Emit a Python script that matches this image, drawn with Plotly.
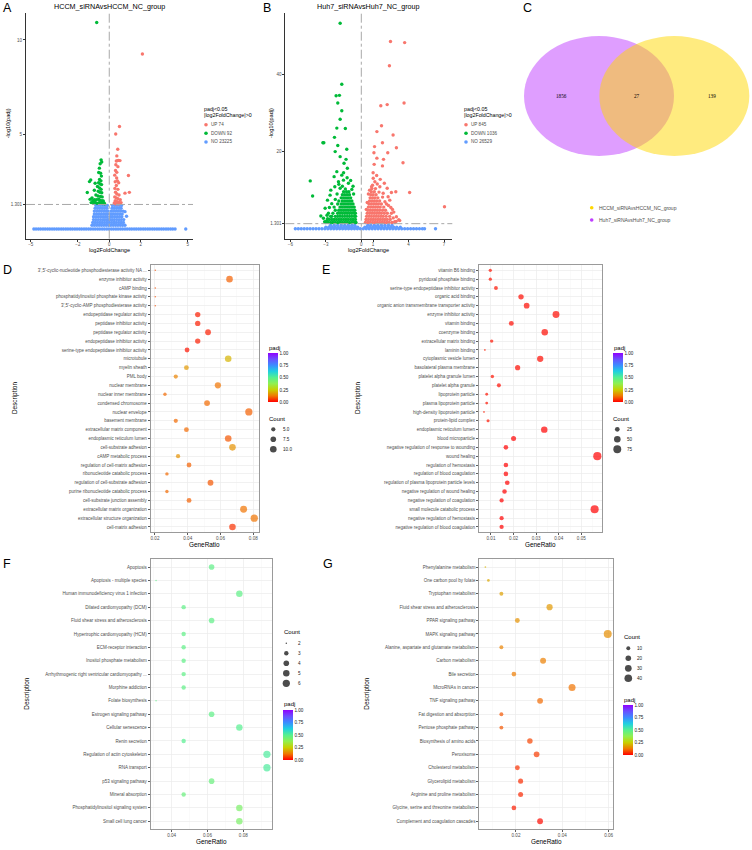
import numpy as np
import plotly.graph_objects as go

W, H = 752, 850
SANS = "Liberation Sans, Arial, sans-serif"
SERIF = "Liberation Serif, Times New Roman, serif"
G30 = "#4D4D4D"

# ----------------------------------------------------------------- DATA
PADJ_CUT = 1.301
A_TITLE = "HCCM_siRNAvsHCCM_NC_group"
B_TITLE = "Huh7_siRNAvsHuh7_NC_group"
A_LEG = ["UP 74", "DOWN 92", "NO 23225"]
B_LEG = ["UP 845", "DOWN 1036", "NO 26529"]

A_UP = [(2.11, 9.26), (0.65, 5.42), (0.41, 5.03), (0.54, 4.22), (0.48, 3.87), (0.45, 3.60), (0.53, 3.62),
        (0.60, 3.63), (0.68, 3.62), (0.42, 3.40), (0.55, 3.30), (0.40, 3.10), (0.48, 3.00), (1.22, 2.83),
        (0.35, 2.85), (0.47, 2.70), (0.52, 2.55), (0.38, 2.50), (0.60, 2.45), (0.45, 2.30), (0.36, 2.15),
        (0.55, 2.10), (1.28, 1.94), (1.00, 1.90), (0.40, 1.95), (0.48, 1.85), (0.62, 1.80), (0.35, 1.70),
        (0.45, 1.65), (0.55, 1.60), (0.70, 1.55), (0.38, 1.50), (0.50, 1.45), (0.62, 1.42), (0.75, 1.40),
        (0.32, 1.38), (0.42, 1.34), (0.58, 1.33)]
A_DOWN = [(-0.80, 10.92), (-0.52, 3.66), (-0.48, 3.55), (-0.58, 3.45), (-0.63, 3.22), (-0.67, 2.99),
          (-0.55, 2.95), (-0.50, 2.80), (-1.18, 2.60), (-1.26, 2.51), (-0.62, 2.62), (-0.53, 2.55),
          (-0.90, 2.42), (-0.68, 2.45), (-0.58, 2.38), (-0.49, 2.35), (-1.40, 1.93), (-0.75, 2.25),
          (-0.62, 2.18), (-0.52, 2.10), (-0.95, 2.05), (-0.70, 2.00), (-0.60, 1.95), (-0.48, 1.92),
          (-1.22, 1.57), (-1.10, 1.65), (-0.85, 1.80), (-0.72, 1.75), (-0.56, 1.72), (-0.45, 1.70),
          (-1.05, 1.50), (-0.95, 1.55), (-0.82, 1.55), (-0.68, 1.58), (-0.58, 1.52), (-0.46, 1.50),
          (-0.38, 1.48), (-1.15, 1.40), (-1.00, 1.38), (-0.90, 1.42), (-0.78, 1.36), (-0.65, 1.40),
          (-0.55, 1.37), (-0.43, 1.35), (-0.35, 1.40), (-0.30, 1.34)]
A_NO_BAND = [-4.80, -4.66, -4.51, -4.37, -4.22, -4.08, -3.93, -3.79, -3.64, -3.50, -3.35, -3.21, -3.06,
             -2.92, -2.77, -2.63, -2.48, -2.34, -2.19, -2.05, -1.90, -1.76, -1.61, -1.47, -1.32, -1.18,
             -1.03, -0.89, -0.74, -0.60, -0.45, -0.31, -0.16, -0.02, 0.13, 0.27, 0.42, 0.56, 0.71, 0.85,
             1.00, 1.14, 1.29, 1.43, 1.58, 1.72, 1.87, 2.01, 2.16, 2.30, 2.45, 2.59, 2.74, 2.88, 3.03,
             3.17, 3.32, 3.46, 3.61, 3.75, 3.90, 4.04, 4.19, 4.87]
A_NO_BLOB = [(-0.85, 1.25), (-0.70, 1.25), (-0.55, 1.25), (-0.40, 1.25), (-0.25, 1.25), (-0.12, 1.25),
             (0.20, 1.25), (0.35, 1.25), (0.50, 1.25), (0.65, 1.25), (0.78, 1.25),
             (-0.90, 1.10), (-0.75, 1.10), (-0.60, 1.10), (-0.45, 1.10), (-0.30, 1.10), (-0.15, 1.10),
             (0.18, 1.10), (0.32, 1.10), (0.47, 1.10), (0.62, 1.10), (0.75, 1.10),
             (-0.95, 0.95), (-0.80, 0.95), (-0.65, 0.95), (-0.50, 0.95), (-0.35, 0.95), (-0.20, 0.95),
             (-0.08, 0.95), (0.12, 0.95), (0.27, 0.95), (0.42, 0.95), (0.57, 0.95), (0.72, 0.95),
             (0.88, 0.95), (1.00, 0.92),
             (-0.95, 0.80), (-0.80, 0.80), (-0.65, 0.80), (-0.50, 0.80), (-0.35, 0.80), (-0.22, 0.80),
             (-0.10, 0.80), (0.10, 0.80), (0.22, 0.80), (0.37, 0.80), (0.52, 0.80), (0.67, 0.80),
             (0.82, 0.80),
             (-1.00, 0.65), (-0.85, 0.65), (-0.70, 0.65), (-0.55, 0.65), (-0.40, 0.65), (-0.25, 0.65),
             (-0.12, 0.65), (0.08, 0.65), (0.20, 0.65), (0.35, 0.65), (0.50, 0.65), (0.65, 0.65),
             (0.80, 0.65), (1.10, 0.68),
             (-1.00, 0.50), (-0.85, 0.50), (-0.70, 0.50), (-0.55, 0.50), (-0.40, 0.50), (-0.28, 0.50),
             (-0.15, 0.50), (-0.05, 0.50), (0.05, 0.50), (0.18, 0.50), (0.32, 0.50), (0.47, 0.50),
             (0.62, 0.50), (0.77, 0.50), (0.92, 0.50),
             (-1.05, 0.35), (-0.90, 0.35), (-0.75, 0.35), (-0.60, 0.35), (-0.45, 0.35), (-0.30, 0.35),
             (-0.15, 0.35), (0.00, 0.35), (0.15, 0.35), (0.30, 0.35), (0.45, 0.35), (0.60, 0.35),
             (0.75, 0.35), (0.90, 0.35),
             (-1.10, 0.20), (-0.95, 0.20), (-0.80, 0.20), (-0.65, 0.20), (-0.50, 0.20), (-0.35, 0.20),
             (-0.20, 0.20), (-0.05, 0.20), (0.10, 0.20), (0.25, 0.20), (0.40, 0.20), (0.55, 0.20),
             (0.70, 0.20), (0.85, 0.20), (1.00, 0.20)]

B_UP = [(2.47, 48.6), (3.67, 48.3), (2.38, 42.3), (1.65, 31.9), (2.19, 32.2), (3.62, 32.6), (1.71, 26.7),
        (1.32, 25.2), (2.69, 24.3), (1.79, 22.3), (1.12, 21.3), (2.97, 21.0), (1.07, 19.7), (2.24, 19.7),
        (1.32, 18.3), (1.88, 18.0), (1.09, 16.7), (1.79, 16.3), (3.53, 17.1), (7.04, 5.7), (4.09, 9.4),
        (2.92, 9.6), (2.55, 9.4), (2.19, 10.5), (2.64, 5.0), (2.75, 4.3), (3.17, 2.3), (2.13, 6.4),
        (1.01, 13.1), (1.15, 12.2), (0.95, 11.3), (1.35, 11.6), (1.57, 10.9), (0.87, 10.9), (1.85, 9.2),
        (2.27, 8.3), (2.41, 7.4), (2.00, 7.0), (2.55, 4.0), (2.97, 3.1), (3.25, 2.1), (2.83, 1.8),
        (0.60, 9.0), (0.70, 10.0), (1.50, 9.5), (1.80, 8.2), (2.30, 6.0), (2.50, 5.5), (2.70, 2.8),
        (2.95, 1.9), (0.50, 6.8), (0.42, 5.0), (1.95, 11.8), (1.60, 12.8), (1.30, 13.8), (1.00, 14.5),
        (0.35, 1.6), (0.55, 1.6), (0.75, 1.6), (0.95, 1.6), (1.15, 1.6), (1.35, 1.6), (1.55, 1.6),
        (1.75, 1.6), (1.95, 1.6), (2.15, 1.6), (2.35, 1.6), (2.60, 1.6), (2.85, 1.6),
        (0.40, 2.4), (0.60, 2.4), (0.80, 2.4), (1.00, 2.4), (1.20, 2.4), (1.40, 2.4), (1.60, 2.4),
        (1.80, 2.4), (2.00, 2.4), (2.20, 2.4), (2.45, 2.4),
        (0.45, 3.2), (0.65, 3.2), (0.85, 3.2), (1.05, 3.2), (1.25, 3.2), (1.45, 3.2), (1.65, 3.2),
        (1.85, 3.2), (2.10, 3.2), (2.40, 3.2),
        (0.50, 4.0), (0.70, 4.0), (0.90, 4.0), (1.10, 4.0), (1.30, 4.0), (1.50, 4.0), (1.70, 4.0),
        (1.95, 4.0), (2.20, 4.0),
        (0.55, 4.8), (0.75, 4.8), (0.95, 4.8), (1.15, 4.8), (1.35, 4.8), (1.55, 4.8), (1.80, 4.8),
        (2.05, 4.8),
        (0.60, 5.6), (0.80, 5.6), (1.00, 5.6), (1.20, 5.6), (1.40, 5.6), (1.60, 5.6), (1.90, 5.6),
        (0.65, 6.4), (0.85, 6.4), (1.05, 6.4), (1.25, 6.4), (1.45, 6.4), (1.70, 6.4),
        (0.70, 7.2), (0.90, 7.2), (1.10, 7.2), (1.30, 7.2), (1.55, 7.2),
        (0.75, 8.0), (0.95, 8.0), (1.15, 8.0), (1.40, 8.0),
        (0.80, 8.8), (1.00, 8.8), (1.25, 8.8), (0.85, 9.6), (1.10, 9.6), (0.90, 10.4), (1.20, 10.4)]
B_DOWN = [(-1.79, 53.3), (-1.65, 37.5), (-2.13, 34.5), (-1.85, 34.6), (-1.99, 32.6), (-1.65, 30.6),
          (-1.79, 28.4), (-1.35, 26.0), (-2.07, 26.1), (-2.27, 23.7), (-3.17, 22.3), (-3.25, 22.3),
          (-1.99, 21.6), (-2.21, 20.0), (-4.32, 12.4), (-4.12, 8.5), (-2.58, 10.0), (-1.23, 20.6),
          (-1.29, 18.0), (-3.42, 3.3), (-1.79, 18.7), (-1.46, 17.0), (-1.18, 15.7), (-2.07, 14.8),
          (-1.65, 13.9), (-2.30, 13.5), (-1.93, 12.2), (-1.51, 12.6), (-1.09, 11.8), (-2.24, 10.9),
          (-1.79, 10.5), (-2.64, 8.7), (-2.86, 7.4), (-3.06, 5.3), (-2.78, 4.0), (-3.20, 2.7),
          (-2.92, 2.1), (-1.50, 14.5), (-1.20, 13.2), (-0.90, 12.5), (-0.70, 11.0), (-1.90, 11.5),
          (-1.60, 11.0), (-0.80, 10.2), (-0.65, 9.0), (-2.50, 6.5), (-2.70, 5.5), (-2.90, 3.5),
          (-2.60, 3.2), (-3.10, 1.8), (-2.85, 2.6), (-1.35, 10.3), (-2.05, 9.0), (-2.20, 7.6),
          (-3.00, 1.6), (-2.80, 1.6), (-2.60, 1.6), (-2.40, 1.6), (-2.20, 1.6), (-2.00, 1.6), (-1.80, 1.6),
          (-1.60, 1.6), (-1.40, 1.6), (-1.20, 1.6), (-1.00, 1.6), (-0.80, 1.6), (-0.60, 1.6), (-0.45, 1.6),
          (-2.70, 2.4), (-2.50, 2.4), (-2.30, 2.4), (-2.10, 2.4), (-1.90, 2.4), (-1.70, 2.4), (-1.50, 2.4),
          (-1.30, 2.4), (-1.10, 2.4), (-0.90, 2.4), (-0.70, 2.4), (-0.50, 2.4),
          (-2.50, 3.2), (-2.20, 3.2), (-2.00, 3.2), (-1.80, 3.2), (-1.60, 3.2), (-1.40, 3.2), (-1.20, 3.2),
          (-1.00, 3.2), (-0.80, 3.2), (-0.60, 3.2), (-0.48, 3.2),
          (-2.40, 4.0), (-2.00, 4.0), (-1.80, 4.0), (-1.60, 4.0), (-1.40, 4.0), (-1.20, 4.0), (-1.00, 4.0),
          (-0.80, 4.0), (-0.60, 4.0), (-0.50, 4.0),
          (-2.20, 4.8), (-1.90, 4.8), (-1.70, 4.8), (-1.50, 4.8), (-1.30, 4.8), (-1.10, 4.8), (-0.90, 4.8),
          (-0.70, 4.8), (-0.55, 4.8),
          (-2.30, 5.6), (-1.80, 5.6), (-1.60, 5.6), (-1.40, 5.6), (-1.20, 5.6), (-1.00, 5.6), (-0.80, 5.6),
          (-0.60, 5.6),
          (-2.00, 6.4), (-1.70, 6.4), (-1.50, 6.4), (-1.30, 6.4), (-1.10, 6.4), (-0.90, 6.4), (-0.70, 6.4),
          (-1.90, 7.2), (-1.60, 7.2), (-1.40, 7.2), (-1.20, 7.2), (-1.00, 7.2), (-0.80, 7.2),
          (-1.70, 8.0), (-1.50, 8.0), (-1.30, 8.0), (-1.10, 8.0), (-0.90, 8.0),
          (-1.60, 8.8), (-1.40, 8.8), (-1.20, 8.8), (-1.00, 8.8), (-1.50, 9.6), (-1.25, 9.6), (-1.05, 9.6)]
B_NO_BAND = [-5.58, -5.33, -5.08, -4.83, -4.58, -4.33, -4.08, -3.83, -3.58, -3.33, -3.08, -2.83, -2.58,
             -2.33, -2.08, -1.83, -1.58, -1.33, -1.08, -0.83, -0.58, -0.33, -0.08, 0.17, 0.42, 0.67,
             0.92, 1.17, 1.42, 1.67, 1.92, 2.17, 2.42, 2.67, 2.92, 3.17, 3.42, 3.67, 3.92, 4.17, 4.42,
             4.67, 4.92, 5.17, 5.35, 6.28]
B_NO_BLOB = [(-3.00, 0.4), (-2.75, 0.4), (-2.50, 0.4), (-2.25, 0.4), (-2.00, 0.4), (-1.75, 0.4),
             (-1.50, 0.4), (-1.25, 0.4), (-1.00, 0.4), (-0.75, 0.4), (-0.50, 0.4), (-0.30, 0.4),
             (0.30, 0.4), (0.50, 0.4), (0.75, 0.4), (1.00, 0.4), (1.25, 0.4), (1.50, 0.4), (1.75, 0.4),
             (2.00, 0.4), (2.25, 0.4), (2.50, 0.4), (2.75, 0.4), (3.00, 0.4), (3.30, 0.4),
             (-2.60, 0.9), (-2.30, 0.9), (-2.00, 0.9), (-1.70, 0.9), (-1.40, 0.9), (-1.10, 0.9),
             (-0.80, 0.9), (-0.55, 0.9), (0.55, 0.9), (0.80, 0.9), (1.10, 0.9), (1.40, 0.9), (1.70, 0.9),
             (2.00, 0.9), (2.30, 0.9), (2.60, 0.9)]

VENN_SETS = ["HCCM_siRNAvsHCCM_NC_group", "Huh7_siRNAvsHuh7_NC_group"]
VENN_ONLY_HUH7, VENN_BOTH, VENN_ONLY_HCCM = 1856, 27, 139

D_TERMS = ["3',5'-cyclic-nucleotide phosphodiesterase activity NA ...", "enzyme inhibitor activity",
           "cAMP binding", "phosphatidylinositol phosphate kinase activity",
           "3',5'-cyclic-AMP phosphodiesterase activity", "endopeptidase regulator activity",
           "peptidase inhibitor activity", "peptidase regulator activity", "endopeptidase inhibitor activity",
           "serine-type endopeptidase inhibitor activity", "microtubule", "myelin sheath", "PML body",
           "nuclear membrane", "nuclear inner membrane", "condensed chromosome", "nuclear envelope",
           "basement membrane", "extracellular matrix component", "endoplasmic reticulum lumen",
           "cell-substrate adhesion", "cAMP metabolic process", "regulation of cell-matrix adhesion",
           "ribonucleotide catabolic process", "regulation of cell-substrate adhesion",
           "purine ribonucleotide catabolic process", "cell-substrate junction assembly",
           "extracellular matrix organization", "extracellular structure organization", "cell-matrix adhesion"]
D_RATIO = [0.0202, 0.0655, 0.0202, 0.0202, 0.0202, 0.0461, 0.0461, 0.0524, 0.0461, 0.0396,
           0.0647, 0.0392, 0.0327, 0.0584, 0.0261, 0.0518, 0.0773, 0.0327, 0.0392, 0.0647,
           0.0673, 0.0341, 0.0408, 0.0273, 0.0539, 0.0273, 0.0408, 0.0741, 0.0806, 0.0673]
D_COUNT = [3, 10, 3, 3, 3, 7, 7, 8, 7, 6, 10, 6, 5, 9, 4, 8, 12, 5, 6, 10, 10, 5, 6, 4, 8, 4, 6, 11, 12, 10]
D_PADJ = [0.08, 0.10, 0.08, 0.08, 0.08, 0.03, 0.03, 0.03, 0.03, 0.02, 0.21, 0.17, 0.14, 0.12, 0.11,
          0.11, 0.10, 0.11, 0.11, 0.09, 0.16, 0.16, 0.10, 0.11, 0.09, 0.11, 0.10, 0.12, 0.12, 0.05]

E_TERMS = ["vitamin B6 binding", "pyridoxal phosphate binding", "serine-type endopeptidase inhibitor activity",
           "organic acid binding", "organic anion transmembrane transporter activity", "enzyme inhibitor activity",
           "vitamin binding", "coenzyme binding", "extracellular matrix binding", "laminin binding",
           "cytoplasmic vesicle lumen", "basolateral plasma membrane", "platelet alpha granule lumen",
           "platelet alpha granule", "lipoprotein particle", "plasma lipoprotein particle",
           "high-density lipoprotein particle", "protein-lipid complex", "endoplasmic reticulum lumen",
           "blood microparticle", "negative regulation of response to wounding", "wound healing",
           "regulation of hemostasis", "regulation of blood coagulation",
           "regulation of plasma lipoprotein particle levels", "negative regulation of wound healing",
           "negative regulation of coagulation", "small molecule catabolic process",
           "negative regulation of hemostasis", "negative regulation of blood coagulation"]
E_RATIO = [0.0097, 0.0097, 0.0122, 0.0233, 0.0258, 0.0388, 0.0190, 0.0338, 0.0103, 0.0073,
           0.0318, 0.0218, 0.0106, 0.0135, 0.0081, 0.0081, 0.0069, 0.0087, 0.0336, 0.0200,
           0.0166, 0.0571, 0.0166, 0.0166, 0.0172, 0.0160, 0.0147, 0.0559, 0.0147, 0.0147]
E_COUNT = [14, 14, 18, 33, 37, 56, 27, 49, 15, 10, 46, 31, 15, 19, 12, 12, 10, 13, 48, 29,
           24, 82, 24, 24, 25, 23, 21, 80, 21, 21]
E_PADJ = [0.02, 0.02, 0.02, 0.01, 0.01, 0.01, 0.01, 0.01, 0.02, 0.03, 0.01, 0.01, 0.02, 0.01, 0.02,
          0.02, 0.03, 0.02, 0.0, 0.0, 0.0, 0.0, 0.0, 0.0, 0.0, 0.0, 0.0, 0.0, 0.0, 0.0]

F_TERMS = ["Apoptosis", "Apoptosis - multiple species", "Human immunodeficiency virus 1 infection",
           "Dilated cardiomyopathy (DCM)", "Fluid shear stress and atherosclerosis",
           "Hypertrophic cardiomyopathy (HCM)", "ECM-receptor interaction", "Inositol phosphate metabolism",
           "Arrhythmogenic right ventricular cardiomyopathy ...", "Morphine addiction", "Folate biosynthesis",
           "Estrogen signaling pathway", "Cellular senescence", "Renin secretion",
           "Regulation of actin cytoskeleton", "RNA transport", "p53 signaling pathway", "Mineral absorption",
           "Phosphatidylinositol signaling system", "Small cell lung cancer"]
F_RATIO = [0.0623, 0.0313, 0.0778, 0.0467, 0.0623, 0.0467, 0.0467, 0.0467, 0.0467, 0.0467,
           0.0313, 0.0623, 0.0778, 0.0467, 0.0932, 0.0932, 0.0623, 0.0467, 0.0778, 0.0778]
F_COUNT = [4, 2, 5, 3, 4, 3, 3, 3, 3, 3, 2, 4, 5, 3, 6, 6, 4, 3, 5, 5]
F_PADJ = [0.48, 0.48, 0.48, 0.48, 0.48, 0.48, 0.48, 0.48, 0.48, 0.48, 0.48, 0.48, 0.50, 0.50,
          0.52, 0.52, 0.46, 0.46, 0.42, 0.42]

G_TERMS = ["Phenylalanine metabolism", "One carbon pool by folate", "Tryptophan metabolism",
           "Fluid shear stress and atherosclerosis", "PPAR signaling pathway", "MAPK signaling pathway",
           "Alanine, aspartate and glutamate metabolism", "Carbon metabolism", "Bile secretion",
           "MicroRNAs in cancer", "TNF signaling pathway", "Fat digestion and absorption",
           "Pentose phosphate pathway", "Biosynthesis of amino acids", "Peroxisome", "Cholesterol metabolism",
           "Glycerolipid metabolism", "Arginine and proline metabolism",
           "Glycine, serine and threonine metabolism", "Complement and coagulation cascades"]
G_RATIO = [0.0068, 0.0081, 0.0137, 0.0345, 0.0206, 0.0596, 0.0137, 0.0317, 0.0191, 0.0442,
           0.0304, 0.0137, 0.0137, 0.0260, 0.0289, 0.0206, 0.0220, 0.0220, 0.0191, 0.0304]
G_COUNT = [5, 6, 10, 25, 15, 44, 10, 23, 14, 33, 22, 10, 10, 19, 21, 15, 16, 16, 14, 22]
G_PADJ = [0.21, 0.19, 0.18, 0.17, 0.16, 0.155, 0.14, 0.135, 0.13, 0.12, 0.11, 0.09, 0.09, 0.07, 0.06,
          0.05, 0.045, 0.04, 0.03, 0.01]

PADJ_TICKS = [0, 0.25, 0.5, 0.75, 1.0]
D_SIZE_BREAKS = [5.0, 7.5, 10.0]
E_SIZE_BREAKS = [25, 50, 75]
F_SIZE_BREAKS = [2, 3, 4, 5, 6]
G_SIZE_BREAKS = [10, 20, 30, 40]

# ----------------------------------------------------------------- STYLE / HELPERS
C_UP, C_DOWN, C_NO = "#F8766D", "#00BA38", "#619CFF"
CSCALE = [[0.0, "#FF0000"], [0.125, "#F07800"], [0.25, "#C8D000"], [0.375, "#90F050"],
          [0.5, "#55F090"], [0.625, "#20D0E0"], [0.75, "#3C8CFF"], [0.875, "#6A50FF"], [1.0, "#9000FF"]]


def xd(l, r):
    return [l / W, r / W]


def yd(t, b):
    return [1 - b / H, 1 - t / H]


def px(x):
    return x / W


def py(y):
    return 1 - y / H


def diam(c, lo, hi, k):
    c = np.asarray(c, dtype=float)
    return k * (1 + 5 * np.sqrt(np.clip((c - lo) / (hi - lo), 0, 1)) + 0.33)


fig = go.Figure()
ann = []
shapes = []


def text(x, y, s, size, color="black", xa="left", ya="middle", angle=0, family=SANS):
    ann.append(dict(x=px(x), y=py(y), xref="paper", yref="paper", text=s, showarrow=False,
                    xanchor=xa, yanchor=ya, textangle=angle, borderpad=0,
                    font=dict(size=size, color=color, family=family)))


# ----------------------------------------------------------------- VOLCANO PANELS
def volcano(ax, up, down, band, blob):
    xs = [p for p in band] + [p[0] for p in blob]
    ys = [0.0] * len(band) + [p[1] for p in blob]
    for xv, yv, col in [(xs, ys, C_NO), ([p[0] for p in down], [p[1] for p in down], C_DOWN),
                        ([p[0] for p in up], [p[1] for p in up], C_UP)]:
        fig.add_trace(go.Scatter(x=xv, y=yv, mode="markers", xaxis="x" + ax, yaxis="y" + ax,
                                 marker=dict(size=3.4, color=col, line=dict(width=0)),
                                 showlegend=False, hoverinfo="skip"))
    xr = "x" + ax
    yr = "y" + ax
    shapes.append(dict(type="line", xref=xr, yref=yr + " domain", x0=0, x1=0, y0=0, y1=1,
                       line=dict(color="#A8A8A8", width=1, dash="dashdot")))
    shapes.append(dict(type="line", xref=xr + " domain", yref=yr, x0=0, x1=1, y0=PADJ_CUT, y1=PADJ_CUT,
                       line=dict(color="#A8A8A8", width=1, dash="dashdot")))


volcano("", A_UP, A_DOWN, A_NO_BAND, A_NO_BLOB)
volcano("2", B_UP, B_DOWN, B_NO_BAND, B_NO_BLOB)

vol_ax = dict(showgrid=False, zeroline=False, showline=True, linecolor="#333333", linewidth=1,
              ticks="outside", ticklen=2, tickwidth=1, tickcolor="#333333",
              tickfont=dict(size=4.5, color=G30, family=SANS))
layout = dict(
    xaxis=dict(domain=xd(26, 193), range=[-5.3, 5.33], tickvals=[-5, -2, 0, 2, 5], anchor="y",
               ticklabelstandoff=-1, **vol_ax),
    yaxis=dict(domain=yd(13.3, 238.7), range=[-0.51, 11.41], tickvals=[PADJ_CUT, 5, 10],
               ticktext=["1.301", "5", "10"], anchor="x", **vol_ax),
    xaxis2=dict(domain=xd(285.3, 452.3), range=[-6.43, 7.7], tickvals=[-6, -3, 0, 1, 4, 7], anchor="y2",
                ticklabelstandoff=-1, **vol_ax),
    yaxis2=dict(domain=yd(13.3, 238.7), range=[-2.6, 55.9], tickvals=[PADJ_CUT, 20, 40],
                ticktext=["1.301", "20", "40"], anchor="x2", **vol_ax),
)

for cx, title in [(109.5, A_TITLE), (368.8, B_TITLE)]:
    text(cx, 6.8, title, 7.2, "black", "center")
    text(cx, 249.8, "log2FoldChange", 5.6, "black", "center")
text(8.3, 123, "-log10(padj)", 5.6, "black", "center", "middle", -90)
text(271, 123, "-log10(padj)", 5.6, "black", "center", "middle", -90)

leg_x, leg_y, leg_c = [], [], []
for x0, labels in [(202.7, A_LEG), (462.7, B_LEG)]:
    text(x0, 109.3, "padj<0.05", 5.3)
    text(x0, 115.5, "|log2FoldChange|>0", 5.3)
    for yy, lab, col in zip([124.7, 133.3, 142.0], labels, [C_UP, C_DOWN, C_NO]):
        leg_x.append(x0 + 3.3)
        leg_y.append(yy)
        leg_c.append(col)
        text(x0 + 7, yy, lab, 4.6, G30)

# ----------------------------------------------------------------- VENN (panel C)
layout["xaxis7"] = dict(domain=[0, 1], range=[0, W], visible=False, anchor="y7")
layout["yaxis7"] = dict(domain=[0, 1], range=[H, 0], visible=False, anchor="x7")
shapes.append(dict(type="circle", xref="x7", yref="y7", x0=524, x1=674, y0=36, y1=156,
                   fillcolor="rgba(191,62,255,0.5)", line=dict(width=0), layer="above"))
shapes.append(dict(type="circle", xref="x7", yref="y7", x0=599.3, x1=749.3, y0=36, y1=156,
                   fillcolor="rgba(255,215,0,0.5)", line=dict(width=0), layer="above"))
for xx, v in [(561.7, VENN_ONLY_HUH7), (636.7, VENN_BOTH), (712, VENN_ONLY_HCCM)]:
    text(xx, 96, str(v), 5.2, "black", "center", family=SERIF)
leg_x += [591.7, 591.7]
leg_y += [207.7, 220.0]
leg_c += ["#FFD700", "#BF3EFF"]
text(597.7, 207.7, VENN_SETS[0], 5.0, G30)
text(597.7, 220.0, VENN_SETS[1], 5.0, G30)

# ----------------------------------------------------------------- DOT PLOTS
dot_specs = [
    ("3", D_TERMS, D_RATIO, D_COUNT, D_PADJ, (150.7, 259), (265, 532.3), [0.0174, 0.0835], 0.02, 1.15,
     D_SIZE_BREAKS, dict(padj=(268.3, 347.5, 353.3, 49), cnt=(268.3, 418.5, 273.3, [429.3, 439.3, 449.3], 281.7),
                         fmt="{:.1f}")),
    ("4", E_TERMS, E_RATIO, E_COUNT, E_PADJ, (479, 602.3), (265, 532.3), [0.00469, 0.0593], 0.01, 1.3,
     E_SIZE_BREAKS, dict(padj=(613.3, 347.5, 353.3, 49), cnt=(612.3, 418.5, 617.3, [429.3, 439.3, 449.3], 626),
                         fmt="{:.0f}")),
    ("5", F_TERMS, F_RATIO, F_COUNT, F_PADJ, (150.7, 272.3), (559, 829.3), [0.0283, 0.0962], 0.02, 1.15,
     F_SIZE_BREAKS, dict(padj=(282.7, 704.3, 710, 49.5),
                         cnt=(282.7, 632.3, 286.3, [643.3, 653.3, 663.3, 673.3, 683.3], 296.7), fmt="{:.0f}")),
    ("6", G_TERMS, G_RATIO, G_COUNT, G_PADJ, (479.3, 613.3), (559, 829.3), [0.00417, 0.062], 0.02, 1.26,
     G_SIZE_BREAKS, dict(padj=(623.3, 699.5, 705, 50),
                         cnt=(623.3, 636.7, 628.3, [648.3, 658.3, 668.3, 678.3], 636), fmt="{:.0f}")),
]

cnt_x, cnt_y, cnt_s = [], [], []
for key, terms, ratio, count, padj, xdom, ydom, xrng, dt, k, breaks, lg in dot_specs:
    lo, hi = min(count), max(count)
    cb_x, cb_title_y, cb_top, cb_len = lg["padj"]
    fig.add_trace(go.Scatter(
        x=ratio, y=terms, mode="markers", xaxis="x" + key, yaxis="y" + key, showlegend=False,
        hoverinfo="skip",
        marker=dict(size=diam(count, lo, hi, k), color=padj, cmin=0, cmax=1, colorscale=CSCALE,
                    line=dict(width=0), showscale=True,
                    colorbar=dict(x=px(cb_x), xanchor="left", y=py(cb_top), yanchor="top",
                                  len=cb_len, lenmode="pixels", thickness=10, thicknessmode="pixels",
                                  xpad=0, ypad=0, outlinewidth=0, ticks="",
                                  tickvals=PADJ_TICKS, ticktext=["0.00", "0.25", "0.50", "0.75", "1.00"],
                                  tickfont=dict(size=4.6, color="#1A1A1A", family=SANS)))))
    n = len(terms)
    layout["xaxis" + key] = dict(
        domain=xd(*xdom), range=xrng, anchor="y" + key, dtick=dt, tick0=0, tickformat=".2f",
        showgrid=True, gridcolor="#EBEBEB", gridwidth=0.7, zeroline=False,
        minor=dict(dtick=dt / 2, tick0=0, showgrid=True, gridcolor="#F6F6F6", gridwidth=0.5),
        showline=True, mirror=True, linecolor="#9A9A9A", linewidth=1,
        ticks="outside", ticklen=2, tickwidth=0.8, tickcolor="#333333", ticklabelstandoff=-1,
        tickfont=dict(size=4.6, color=G30, family=SANS))
    layout["yaxis" + key] = dict(
        domain=yd(*ydom), range=[n - 1 + 0.6, -0.6], anchor="x" + key, type="category",
        categoryorder="array", categoryarray=terms,
        showgrid=True, gridcolor="#EBEBEB", gridwidth=0.7, zeroline=False,
        showline=True, mirror=True, linecolor="#9A9A9A", linewidth=1,
        ticks="outside", ticklen=2, tickwidth=0.8, tickcolor="#333333",
        tickfont=dict(size=4.5, color=G30, family=SANS))
    text(cb_x, cb_title_y, "padj", 6.0, "black")
    tx, ty, dx, dys, lx = lg["cnt"]
    text(tx, ty, "Count", 6.0, "black")
    bd = diam(breaks, lo, hi, k)
    for b, d, yy in zip(breaks, bd, dys):
        cnt_x.append(dx)
        cnt_y.append(yy)
        cnt_s.append(float(d))
        text(lx, yy, lg["fmt"].format(b), 4.6, "#1A1A1A")
    cxm = (xdom[0] + xdom[1]) / 2
    text(cxm, ydom[1] + 12.4, "GeneRatio", 6.4, "black", "center")

text(15, 398, "Description", 6.4, "black", "center", "middle", -90)
text(358, 398, "Description", 6.4, "black", "center", "middle", -90)
text(26.7, 694, "Description", 6.4, "black", "center", "middle", -90)
text(366.7, 694, "Description", 6.4, "black", "center", "middle", -90)

fig.add_trace(go.Scatter(x=leg_x, y=leg_y, mode="markers", xaxis="x7", yaxis="y7", showlegend=False,
                         hoverinfo="skip", marker=dict(size=3.6, color=leg_c, line=dict(width=0))))
fig.add_trace(go.Scatter(x=cnt_x, y=cnt_y, mode="markers", xaxis="x7", yaxis="y7", showlegend=False,
                         hoverinfo="skip", marker=dict(size=cnt_s, color="black", line=dict(width=0))))

for lx, ly, s in [(2, 8, "A"), (262, 8, "B"), (522, 8, "C"), (2, 270, "D"), (321, 270, "E"),
                  (2, 564, "F"), (322, 564, "G")]:
    text(lx, ly, s, 12.5, "black")

layout.update(width=W, height=H, margin=dict(l=0, r=0, t=0, b=0), paper_bgcolor="white",
              plot_bgcolor="rgba(0,0,0,0)", showlegend=False, annotations=ann, shapes=shapes,
              font=dict(family=SANS), hovermode=False)
fig.update_layout(**layout)
fig.write_html("out.html", config={"displayModeBar": False, "staticPlot": True},
               post_script="document.body.style.margin='0px';document.body.style.padding='0px';")
